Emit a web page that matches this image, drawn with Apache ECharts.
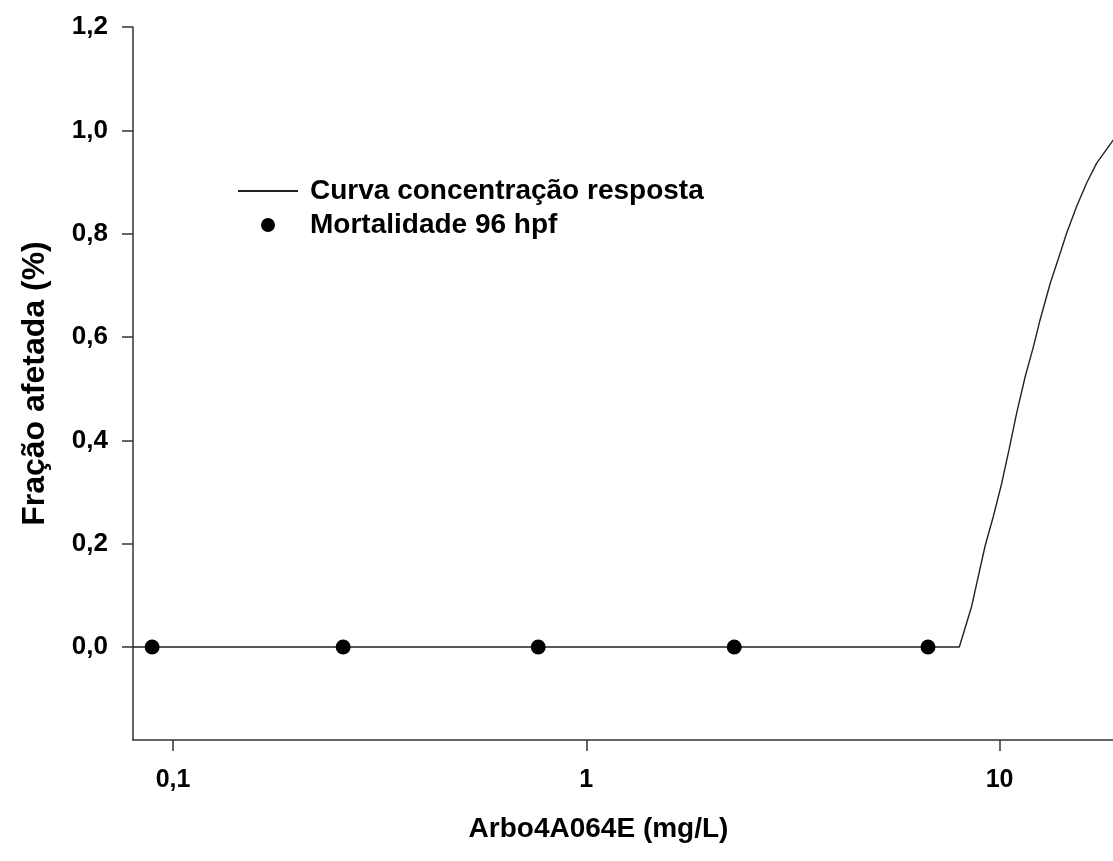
<!DOCTYPE html>
<html>
<head>
<meta charset="utf-8">
<script src="https://cdn.jsdelivr.net/npm/echarts@6/dist/echarts.min.js"></script>
<style>
  html, body { margin: 0; padding: 0; background: #fff; }
  #chart { width: 1113px; height: 861px; }
</style>
</head>
<body>
<div id="chart"></div>
<script>
// Concentrations tested (mg/L) and observed mortality at 96 hpf
const doseX = [0.089, 0.258, 0.765, 2.28, 6.71];
const mortality = [0, 0, 0, 0, 0];

// Fitted concentration-response curve (mg/L, affected fraction)
const curveX = [0.08, 7.99, 8.56, 9.22, 9.66, 10.12, 10.54, 11.0, 11.53, 12.07, 12.53,
                13.26, 14.09, 14.51, 15.35, 16.22, 17.16, 18.83, 20];
const curveY = [0, 0, 0.079, 0.195, 0.253, 0.317, 0.382, 0.453, 0.523, 0.581, 0.633,
                0.704, 0.768, 0.800, 0.852, 0.897, 0.936, 0.981, 1.0];

// Axis ticks
const xTicks = [0.1, 1, 10];
const yTicks = [0, 0.2, 0.4, 0.6, 0.8, 1.0, 1.2];

const FONT = '"Liberation Sans", Arial, sans-serif';
const comma = v => String(v).replace('.', ',');

const chart = echarts.init(document.getElementById('chart'), null, { renderer: 'canvas' });

chart.setOption({
  animation: false,
  backgroundColor: '#ffffff',
  textStyle: { fontFamily: FONT, color: '#000' },
  // the plot area runs a little past the right edge of the page
  grid: { left: 133, top: 27, bottom: 121, width: 991, containLabel: false,
          outerBoundsMode: 'none' },
  legend: {
    orient: 'vertical',
    left: 232,
    top: 172,
    itemWidth: 60,
    itemHeight: 14,
    itemGap: 6,
    textStyle: { fontFamily: FONT, fontWeight: 'bold', fontSize: 28, color: '#000',
                 lineHeight: 28, padding: [0, 0, 0, 7] },
    data: [
      { name: 'Curva concentração resposta', itemStyle: { opacity: 0 } },
      { name: 'Mortalidade 96 hpf' }
    ]
  },
  xAxis: {
    type: 'log',
    logBase: 10,
    min: 0.08,
    max: 20,
    name: 'Arbo4A064E (mg/L)',
    nameLocation: 'middle',
    nameGap: 75,
    nameTextStyle: { fontFamily: FONT, fontWeight: 'bold', fontSize: 28, color: '#000',
                     padding: [0, 60, 0, 0] },
    splitLine: { show: false },
    axisLine: { show: true, onZero: false, lineStyle: { color: '#333', width: 1.5 } },
    axisTick: { show: true, inside: false, length: 11, customValues: xTicks,
                lineStyle: { color: '#333', width: 1.5 } },
    axisLabel: {
      customValues: xTicks,
      margin: 28,
      fontFamily: FONT, fontWeight: 'bold', fontSize: 25, color: '#000',
      formatter: v => comma(v)
    }
  },
  yAxis: {
    type: 'value',
    min: -0.18,
    max: 1.2,
    name: 'Fração afetada (%)',
    nameLocation: 'middle',
    nameGap: 82,
    nameTextStyle: { fontFamily: FONT, fontWeight: 'bold', fontSize: 32, color: '#000' },
    splitLine: { show: false },
    axisLine: { show: true, onZero: false, lineStyle: { color: '#333', width: 1.5 } },
    axisTick: { show: true, inside: false, length: 11, customValues: yTicks,
                lineStyle: { color: '#333', width: 1.5 } },
    axisLabel: {
      customValues: yTicks,
      margin: 25,
      fontFamily: FONT, fontWeight: 'bold', fontSize: 26, color: '#000',
      formatter: v => comma(Number(v).toFixed(1))
    }
  },
  series: [
    {
      name: 'Curva concentração resposta',
      type: 'line',
      data: curveX.map((x, i) => [x, curveY[i]]),
      symbol: 'none',
      smooth: false,
      lineStyle: { color: '#222', width: 1.4 },
      itemStyle: { color: '#222' },
      z: 2
    },
    {
      name: 'Mortalidade 96 hpf',
      type: 'scatter',
      data: doseX.map((x, i) => [x, mortality[i]]),
      symbol: 'circle',
      symbolSize: 15,
      itemStyle: { color: '#000', opacity: 1 },
      z: 3
    }
  ]
});
</script>
</body>
</html>
